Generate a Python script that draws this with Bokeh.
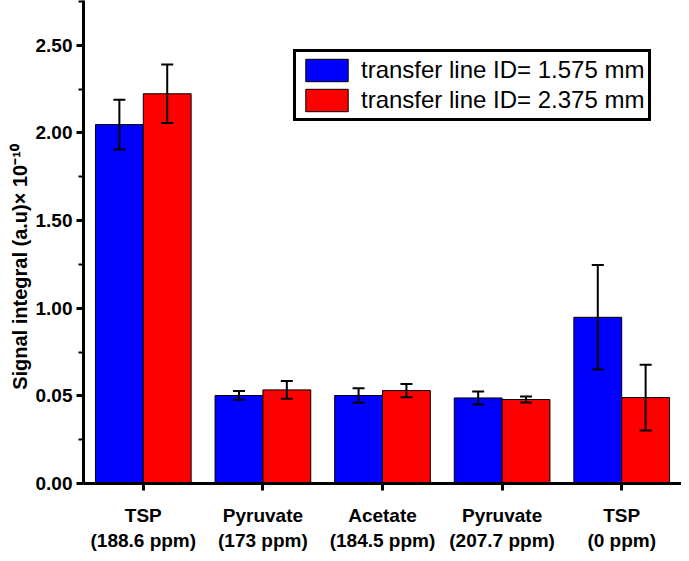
from bokeh.plotting import figure
from bokeh.models import (ColumnDataSource, FactorRange, Whisker, TeeHead, FixedTicker,
                          Legend, LegendItem, Range1d)
from bokeh.transform import dodge
from bokeh.embed import file_html
from bokeh.resources import INLINE

categories = ["TSP\n(188.6 ppm)", "Pyruvate\n(173 ppm)", "Acetate\n(184.5 ppm)",
              "Pyruvate\n(207.7 ppm)", "TSP\n(0 ppm)"]
blue_vals = [2.047, 0.502, 0.502, 0.488, 0.948]
blue_err = [0.142, 0.025, 0.042, 0.037, 0.298]
red_vals = [2.223, 0.534, 0.530, 0.479, 0.490]
red_err = [0.167, 0.050, 0.038, 0.017, 0.187]
series_names = ["transfer line ID= 1.575 mm", "transfer line ID= 2.375 mm"]
y_ticks = [0.0, 0.5, 1.0, 1.5, 2.0, 2.5]
y_tick_labels = ["0.00", "0.05", "1.00", "1.50", "2.00", "2.50"]
y_minor = [0.25, 0.75, 1.25, 1.75, 2.25, 2.75]

src = ColumnDataSource(dict(
    cat=categories, blue=blue_vals, red=red_vals,
    b_up=[v + e for v, e in zip(blue_vals, blue_err)],
    b_lo=[v - e for v, e in zip(blue_vals, blue_err)],
    r_up=[v + e for v, e in zip(red_vals, red_err)],
    r_lo=[v - e for v, e in zip(red_vals, red_err)],
))

FONT = "Liberation Sans"

p = figure(width=681, height=553, x_range=FactorRange(factors=categories, range_padding=0),
           y_range=Range1d(0, 2.755), output_backend="svg", toolbar_location=None,
           min_border_top=0, min_border_right=0, min_border_left=83, min_border_bottom=66)
p.outline_line_color = None
p.xgrid.visible = False
p.ygrid.visible = False

off = 0.2
w = 0.40
rb = p.vbar(x=dodge("cat", -off, range=p.x_range), top="blue", width=w, source=src,
            fill_color="#0000FF", line_color="black", line_width=1)
rr = p.vbar(x=dodge("cat", off, range=p.x_range), top="red", width=w, source=src,
            fill_color="#FF0000", line_color="black", line_width=1)

for base_off, up, lo in [(-off, "b_up", "b_lo"), (off, "r_up", "r_lo")]:
    wk = Whisker(source=src, base=dodge("cat", base_off, range=p.x_range), upper=up, lower=lo,
                 line_color="black", line_width=2, level="overlay",
                 upper_head=TeeHead(size=12, line_width=2, line_color="black"),
                 lower_head=TeeHead(size=12, line_width=2, line_color="black"))
    p.add_layout(wk)

# axes
for ax in (p.xaxis[0], p.yaxis[0]):
    ax.axis_line_width = 3
    ax.axis_line_color = "black"
    ax.major_tick_line_width = 3
    ax.major_tick_line_color = "black"
    ax.minor_tick_line_width = 2
    ax.minor_tick_line_color = "black"
    ax.major_label_text_font = FONT
    ax.major_label_text_font_style = "bold"
    ax.major_label_text_font_size = "19px"
    ax.major_label_text_color = "black"

p.yaxis.ticker = FixedTicker(ticks=y_ticks, minor_ticks=y_minor)
p.yaxis.major_label_overrides = {t: l for t, l in zip(y_ticks, y_tick_labels)}
p.yaxis.major_tick_out = 7
p.yaxis.major_tick_in = 0
p.yaxis.minor_tick_out = 5
p.yaxis.minor_tick_in = 0
p.yaxis.major_label_standoff = 4
p.yaxis.axis_label = "Signal integral (a.u)× 10⁻¹⁰" + "\u00a0" * 9
p.yaxis.axis_label_text_font = FONT
p.yaxis.axis_label_text_font_style = "bold"
p.yaxis.axis_label_text_font_size = "20px"
p.yaxis.axis_label_text_color = "black"
p.yaxis.axis_label_standoff = 2

p.xaxis.major_tick_out = 7
p.xaxis.major_tick_in = 0
p.xaxis.major_label_standoff = 14
p.xaxis.major_label_orientation = "horizontal"

legend = Legend(items=[LegendItem(label=series_names[0], renderers=[rb]),
                       LegendItem(label=series_names[1], renderers=[rr])],
                location=(210, 362))
legend.glyph_width = 53
legend.glyph_height = 28
legend.label_text_font = FONT
legend.label_text_font_size = "24px"
legend.label_text_color = "black"
legend.label_standoff = 8
legend.label_height = 28
legend.padding = 4
legend.spacing = 2
legend.margin = 0
legend.border_line_color = "black"
legend.border_line_alpha = 1
legend.border_line_width = 3
legend.background_fill_alpha = 1
p.add_layout(legend)

open("out.html", "w").write(file_html(p, INLINE))
